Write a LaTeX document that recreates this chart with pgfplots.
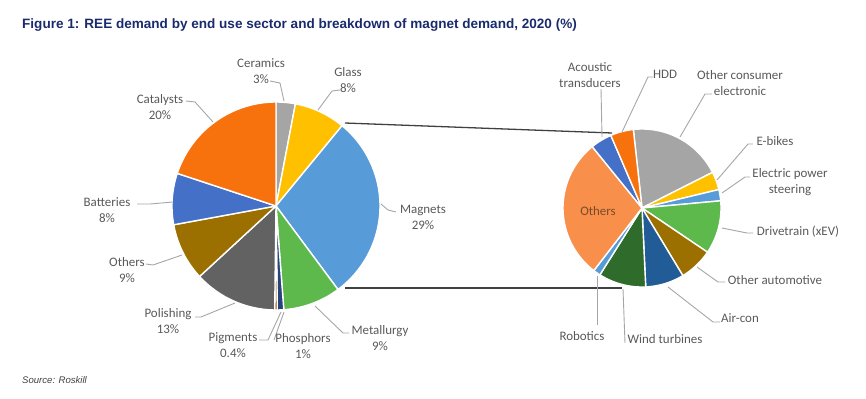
\documentclass[border=0pt]{standalone}
\usepackage{pgfplots}
\pgfplotsset{compat=1.18}
\usepackage{fontspec}
\setmainfont{Carlito}
\newfontfamily\arialfont{Liberation Sans}

\definecolor{cCer}{HTML}{A5A5A5}
\definecolor{cGlass}{HTML}{FFC000}
\definecolor{cMag}{HTML}{579BD8}
\definecolor{cMet}{HTML}{5DB94B}
\definecolor{cPhos}{HTML}{264478}
\definecolor{cPig}{HTML}{9E480E}
\definecolor{cPol}{HTML}{626262}
\definecolor{cOth}{HTML}{9C7000}
\definecolor{cBat}{HTML}{4470C8}
\definecolor{cCat}{HTML}{F7720C}
% right pie
\definecolor{rOCE}{HTML}{A5A5A5}
\definecolor{rEb}{HTML}{FFC000}
\definecolor{rEPS}{HTML}{579BD8}
\definecolor{rDrv}{HTML}{5DB94B}
\definecolor{rOA}{HTML}{9C7000}
\definecolor{rAir}{HTML}{225C96}
\definecolor{rWind}{HTML}{2F6B2A}
\definecolor{rRob}{HTML}{579BD8}
\definecolor{rOth}{HTML}{F8904C}
\definecolor{rAco}{HTML}{4470C8}
\definecolor{rHDD}{HTML}{F7720C}

\definecolor{labgrey}{HTML}{595959}
\definecolor{leadgrey}{HTML}{A6A6A6}
\definecolor{navy}{HTML}{1A2B6D}
\definecolor{othtext}{HTML}{7A4A28}

\tikzset{
  lab/.style={font=\fontsize{13}{16}\selectfont, text=labgrey, align=center, inner sep=0pt},
  lead/.style={draw=leadgrey, line width=0.9pt},
}

% cx, cy, r, start angle (deg, clockwise from top), total, list value/colour
\newcommand{\drawpie}[6]{%
  \gdef\piecum{0}%
  \foreach \v/\c in {#6} {%
    \pgfmathsetmacro\aA{#4+\piecum/#5*360}%
    \pgfmathsetmacro\aB{#4+(\piecum+\v)/#5*360}%
    \edef\tmp{\noexpand\addplot[fill=\c, draw=white, line width=1.4pt, line join=round, mark=none, domain=\aA:\aB, samples=60] ({#1+#3*sin(x)},{#2-#3*cos(x)}) -- (axis cs:#1,#2) -- cycle;}%
    \tmp
    \pgfmathsetmacro\newcum{\piecum+\v}%
    \global\let\piecum\newcum
  }%
}

\begin{document}
\begin{tikzpicture}
\useasboundingbox (0,0) rectangle (866bp,399bp);
\begin{axis}[
  width=866bp, height=399bp, scale only axis,
  xmin=0, xmax=866, ymin=0, ymax=399, y dir=reverse,
  hide axis, clip=false,
]
% connector lines
\draw[color=black!75, line width=1.3pt] (axis cs:345,123) -- (axis cs:612,133);
\draw[color=black!75, line width=1.3pt] (axis cs:345,288) -- (axis cs:622,288);

% left pie: REE demand by end use (%)
\drawpie{276}{206}{104}{0}{100.4}{3/cCer, 8/cGlass, 29/cMag, 9/cMet, 1/cPhos, 0.4/cPig, 13/cPol, 9/cOth, 8/cBat, 20/cCat}

% right pie: breakdown of magnet demand (% of magnets)
\drawpie{642}{208}{79}{-6.3}{100}{19.3/rOCE, 3.7/rEb, 2.3/rEPS, 10.9/rDrv, 6.9/rOA, 7.9/rAir, 9.7/rWind, 1.5/rRob, 28.7/rOth, 4.4/rAco, 4.7/rHDD}

% leaders left
\draw[lead] (axis cs:270,81) -- (axis cs:280,83) -- (axis cs:284,101);
\draw[lead] (axis cs:340,90) -- (axis cs:332,91) -- (axis cs:318,110);
\draw[lead] (axis cs:186,101) -- (axis cs:195,102) -- (axis cs:213,122);
\draw[lead] (axis cs:137,204) -- (axis cs:150,204) -- (axis cs:173,202);
\draw[lead] (axis cs:396,212) -- (axis cs:388,210) -- (axis cs:381,204);
\draw[lead] (axis cs:146,264) -- (axis cs:153,265) -- (axis cs:182,255);
\draw[lead] (axis cs:195,317) -- (axis cs:201,317) -- (axis cs:235,303);
\draw[lead] (axis cs:259,340) -- (axis cs:268,340) -- (axis cs:281,312);
\draw[lead] (axis cs:274,340) -- (axis cs:284,312);
\draw[lead] (axis cs:349,333) -- (axis cs:343,333) -- (axis cs:315,306);

% leaders right
\draw[lead] (axis cs:601,89) -- (axis cs:602,137);
\draw[lead] (axis cs:653,77) -- (axis cs:648,77) -- (axis cs:622,132);
\draw[lead] (axis cs:712,94) -- (axis cs:705,94) -- (axis cs:680,137);
\draw[lead] (axis cs:753,144) -- (axis cs:748,144) -- (axis cs:717,180);
\draw[lead] (axis cs:750,177) -- (axis cs:745,177) -- (axis cs:722,193);
\draw[lead] (axis cs:753,233) -- (axis cs:747,233) -- (axis cs:722,228);
\draw[lead] (axis cs:725,282) -- (axis cs:718,282) -- (axis cs:697,267);
\draw[lead] (axis cs:720,322) -- (axis cs:713,322) -- (axis cs:668,287);
\draw[lead] (axis cs:625,343) -- (axis cs:623,289);
\draw[lead] (axis cs:597,325) -- (axis cs:597,276);

% labels left
\node[lab] at (axis cs:261,71) {Ceramics\\3\%};
\node[lab] at (axis cs:348,80) {Glass\\8\%};
\node[lab] at (axis cs:160,107) {Catalysts\\20\%};
\node[lab] at (axis cs:107,210) {Batteries\\8\%};
\node[lab] at (axis cs:423,217) {Magnets\\29\%};
\node[lab] at (axis cs:127,270) {Others\\9\%};
\node[lab] at (axis cs:168,321) {Polishing\\13\%};
\node[lab] at (axis cs:233,345) {Pigments\\0.4\%};
\node[lab] at (axis cs:303,346) {Phosphors\\1\%};
\node[lab] at (axis cs:380,338) {Metallurgy\\9\%};

% labels right
\node[lab] at (axis cs:590,75) {Acoustic\\transducers};
\node[lab] at (axis cs:665,74) {HDD};
\node[lab] at (axis cs:740,83) {Other consumer\\electronic};
\node[lab] at (axis cs:775,141) {E-bikes};
\node[lab] at (axis cs:790,182) {Electric power\\steering};
\node[lab] at (axis cs:798,232) {Drivetrain (xEV)};
\node[lab] at (axis cs:775,280) {Other automotive};
\node[lab] at (axis cs:740,318) {Air-con};
\node[lab] at (axis cs:665,339) {Wind turbines};
\node[lab] at (axis cs:582,336) {Robotics};
\node[lab, text=othtext] at (axis cs:598,211) {Others};

% title and source
\node[anchor=west, inner sep=0pt, text=navy] at (axis cs:22,25) {\arialfont\bfseries\fontsize{13.6}{16}\selectfont Figure 1: REE demand by end use sector and breakdown of magnet demand, 2020 (\%)};
\node[anchor=west, inner sep=0pt, text=black!75] at (axis cs:22,380) {\arialfont\itshape\fontsize{9.6}{11}\selectfont Source: Roskill};
\end{axis}
\end{tikzpicture}
\end{document}
